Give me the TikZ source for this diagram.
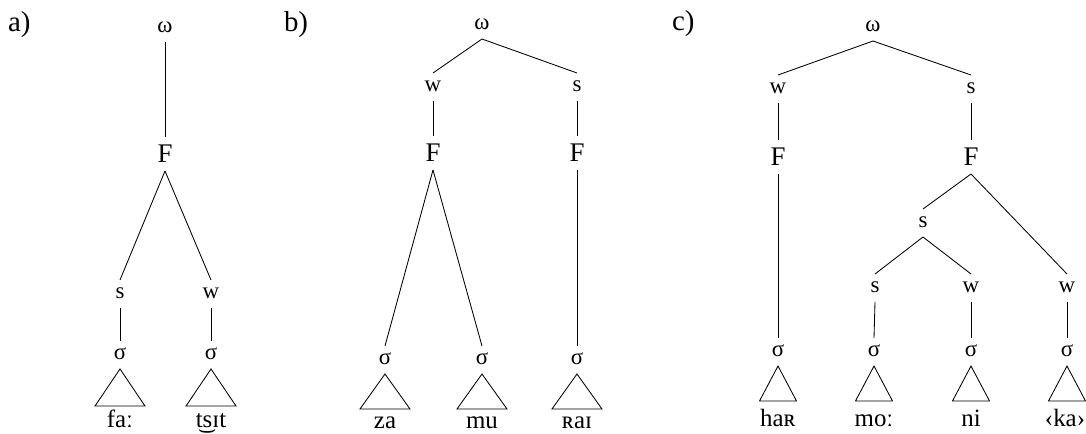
\documentclass[tikz,border=0pt]{standalone}
\usepackage{fontspec}
\setmainfont{Liberation Serif}
\begin{document}
\begin{tikzpicture}[x=1bp,y=-1bp,
 every node/.style={inner sep=0pt, outer sep=0pt},
 lab/.style={font=\fontsize{23}{27}\selectfont, text height=10bp, text depth=0pt, minimum height=28bp},
 big/.style={font=\fontsize{27}{31}\selectfont, text height=18bp, text depth=0pt, minimum height=34bp},
 word/.style={font=\fontsize{25}{29}\selectfont, anchor=base, text depth=0pt},
 panel/.style={font=\fontsize{29}{33}\selectfont, anchor=base west},
 edge/.style={line width=0.85bp, line join=miter},
]
\useasboundingbox (0,0) rectangle (1086,434);

% ---------- a) ----------
\node[panel] (pa) at (8,32) {a)};
\node[lab] (aOm) at (165,28) {ω};
\node[big] (aF) at (165,154) {F};
\node[lab] (aS) at (120,294) {s};
\node[lab] (aW) at (211,294) {w};
\node[lab] (aG1) at (120,355) {σ};
\node[lab] (aG2) at (211,355) {σ};
\node[word] (aT1) at (120,428) {faː};
\node[word] (aT2) at (211,428) {t͜sɪt};
\draw[edge] (aOm.south) -- (aF.north);
\draw[edge] (aF.south) -- (aS.north);
\draw[edge] (aF.south) -- (aW.north);
\draw[edge] (aS.south) -- (aG1.north);
\draw[edge] (aW.south) -- (aG2.north);
\foreach \n in {aG1,aG2}
  \draw[edge] (\n.south) -- ++(-25,37) -- ++(50,0) -- cycle;

% ---------- b) ----------
\node[panel] (pb) at (284,32) {b)};
\node[lab] (bOm) at (482,25) {ω};
\node[lab] (bW) at (433,87) {w};
\node[lab] (bS) at (577,87) {s};
\node[big] (bF1) at (433,153) {F};
\node[big] (bF2) at (577,153) {F};
\node[lab] (bG1) at (385,360) {σ};
\node[lab] (bG2) at (482,360) {σ};
\node[lab] (bG3) at (577,360) {σ};
\node[word] (bT1) at (385,429) {za};
\node[word] (bT2) at (482,429) {mu};
\node[word] (bT3) at (577,429) {ʀaɪ};
\draw[edge] (bOm.south) -- (bW.north);
\draw[edge] (bOm.south) -- (bS.north);
\draw[edge] (bW.south) -- (bF1.north);
\draw[edge] (bS.south) -- (bF2.north);
\draw[edge] (bF1.south) -- (bG1.north);
\draw[edge] (bF1.south) -- (bG2.north);
\draw[edge] (bF2.south) -- (bG3.north);
\foreach \n in {bG1,bG2,bG3}
  \draw[edge] (\n.south) -- ++(-25,35) -- ++(50,0) -- cycle;

% ---------- c) ----------
\node[panel] (pc) at (672,31) {c)};
\node[lab] (cOm) at (873,27) {ω};
\node[lab] (cW) at (778,89) {w};
\node[lab] (cS) at (971,89) {s};
\node[big] (cF1) at (778,157) {F};
\node[big] (cF2) at (971,157) {F};
\node[lab] (cS2) at (923,223) {s};
\node[lab] (cS3) at (875,288) {s};
\node[lab] (cW2) at (971,288) {w};
\node[lab] (cW3) at (1067,288) {w};
\node[lab] (cG1) at (778,352) {σ};
\node[lab] (cG2) at (874,352) {σ};
\node[lab] (cG3) at (971,352) {σ};
\node[lab] (cG4) at (1067,352) {σ};
\node[word] (cT1) at (778,427) {haʀ};
\node[word] (cT2) at (874,427) {moː};
\node[word] (cT3) at (971,427) {ni};
\node[word] (cT4) at (1065,427) {‹ka›};
\draw[edge] (cOm.south) -- (cW.north);
\draw[edge] (cOm.south) -- (cS.north);
\draw[edge] (cW.south) -- (cF1.north);
\draw[edge] (cS.south) -- (cF2.north);
\draw[edge] (cF1.south) -- (cG1.north);
\draw[edge] (cF2.south) -- (cS2.north);
\draw[edge] (cF2.south) -- (cW3.north);
\draw[edge] (cS2.south) -- (cS3.north);
\draw[edge] (cS2.south) -- (cW2.north);
\draw[edge] (cS3.south) -- (cG2.north);
\draw[edge] (cW2.south) -- (cG3.north);
\draw[edge] (cW3.south) -- (cG4.north);
\foreach \n in {cG1,cG2,cG3,cG4}
  \draw[edge] (\n.south) -- ++(-18.5,35) -- ++(37,0) -- cycle;
\end{tikzpicture}
\end{document}
